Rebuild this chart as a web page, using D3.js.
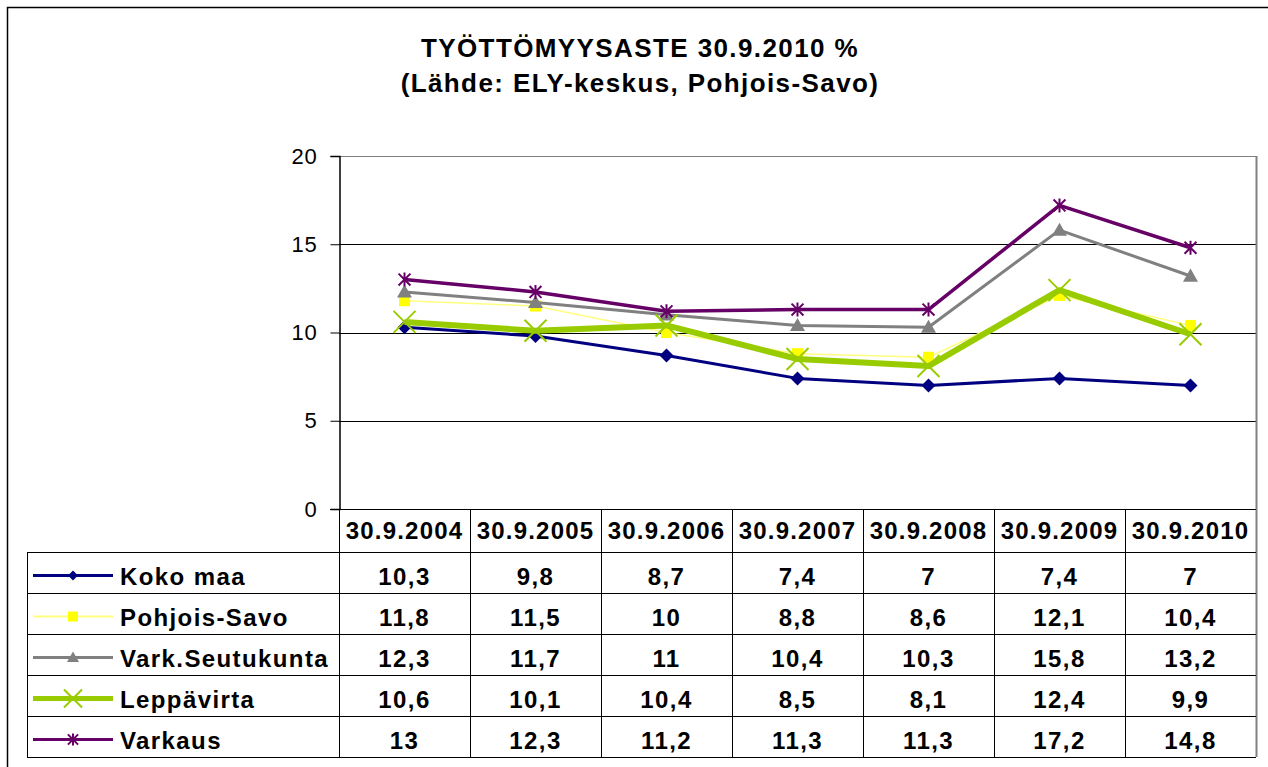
<!DOCTYPE html>
<html>
<head>
<meta charset="utf-8">
<script src="https://cdn.jsdelivr.net/npm/d3@7"></script>
<style>
  body { margin: 0; background: #fff; }
  svg { font-family: "Liberation Sans", Arial, sans-serif; }
</style>
</head>
<body>
<svg class="svgChart"></svg>
<script>
// data
var dates = ['30.9.2004', '30.9.2005', '30.9.2006', '30.9.2007', '30.9.2008', '30.9.2009', '30.9.2010'];
var seriesNames = ['Koko maa', 'Pohjois-Savo', 'Vark.Seutukunta', 'Leppävirta', 'Varkaus'];
var kokoMaa = [10.3, 9.8, 8.7, 7.4, 7, 7.4, 7];
var pohjoisSavo = [11.8, 11.5, 10, 8.8, 8.6, 12.1, 10.4];
var varkSeutukunta = [12.3, 11.7, 11, 10.4, 10.3, 15.8, 13.2];
var leppavirta = [10.6, 10.1, 10.4, 8.5, 8.1, 12.4, 9.9];
var varkaus = [13, 12.3, 11.2, 11.3, 11.3, 17.2, 14.8];
var yTicks = [0, 5, 10, 15, 20];

var seriesValues = [kokoMaa, pohjoisSavo, varkSeutukunta, leppavirta, varkaus];

// styles per series
var lineColors = ['#000080', '#ffff80', '#808080', '#99cc00', '#660066'];
var markColors = ['#000080', '#ffff00', '#808080', '#99cc00', '#660066'];
var lineWidths = [3, 1.5, 3, 6, 3.5];
var legendWidths = [3, 2, 3, 5, 3];

var W = 1268, H = 767;
var plot = { left: 339, right: 1256, top: 156, bottom: 509 };
var tableLeft = 27;
var rowTop = 552;
var rowH = 41;

var svg = d3.select('.svgChart')
    .attr('width', W)
    .attr('height', H);

// outer frame (right and bottom edges fall outside the picture)
svg.append('rect')
    .attr('x', 7.5).attr('y', 7.5)
    .attr('width', 1280).attr('height', 800)
    .attr('fill', 'none')
    .attr('stroke', '#000')
    .attr('stroke-width', 1.5);

// title
svg.append('text')
    .attr('x', 640).attr('y', 57)
    .attr('text-anchor', 'middle')
    .attr('font-size', 26).attr('font-weight', 'bold')
    .attr('letter-spacing', 1.4)
    .text('TYÖTTÖMYYSASTE 30.9.2010 %');
svg.append('text')
    .attr('x', 640).attr('y', 92)
    .attr('text-anchor', 'middle')
    .attr('font-size', 26).attr('font-weight', 'bold')
    .attr('letter-spacing', 1.4)
    .text('(Lähde: ELY-keskus, Pohjois-Savo)');

var xScale = d3.scaleBand()
    .domain(dates)
    .range([plot.left, plot.right]);

var yScale = d3.scaleLinear()
    .domain([0, 20])
    .range([plot.bottom, plot.top]);

// gridlines
svg.append('g')
    .selectAll('line')
    .data(yTicks.filter(d => d > 0))
    .enter()
    .append('line')
      .attr('x1', plot.left).attr('x2', plot.right)
      .attr('y1', d => Math.round(yScale(d)) + 0.5)
      .attr('y2', d => Math.round(yScale(d)) + 0.5)
      .attr('stroke', d => d === 20 ? '#808080' : '#000')
      .attr('stroke-width', 1);

// plot right border
svg.append('line')
    .attr('x1', plot.right + 0.5).attr('x2', plot.right + 0.5)
    .attr('y1', plot.top).attr('y2', plot.bottom)
    .attr('stroke', '#808080').attr('stroke-width', 2);

// y axis
var yAxis = d3.axisLeft(yScale)
    .tickValues(yTicks)
    .tickSize(9)
    .tickPadding(13);
var yg = svg.append('g')
    .attr('transform', 'translate(' + (plot.left + 0.5) + ',0)')
    .call(yAxis);
yg.select('.domain').attr('stroke', '#000').attr('stroke-width', 1.5);
yg.selectAll('.tick line').attr('stroke', '#000');
yg.selectAll('.tick text')
    .attr('font-size', 22)
    .attr('letter-spacing', 0.8)
    .attr('font-family', '"Liberation Sans", Arial, sans-serif')
    .attr('fill', '#000');

// markers
function markerPath(i, s) {
  if (i === 0) return 'M0,' + (-s) + 'L' + s + ',0L0,' + s + 'L' + (-s) + ',0Z';
  if (i === 1) return 'M' + (-s) + ',' + (-s) + 'H' + s + 'V' + s + 'H' + (-s) + 'Z';
  if (i === 2) return 'M0,' + (-s) + 'L' + s + ',' + (s * 0.75) + 'L' + (-s) + ',' + (s * 0.75) + 'Z';
  if (i === 3) return 'M' + (-s) + ',' + (-s) + 'L' + s + ',' + s + 'M' + (-s) + ',' + s + 'L' + s + ',' + (-s);
  var a = s * 0.85;
  return 'M' + (-a) + ',' + (-a) + 'L' + a + ',' + a + 'M' + (-a) + ',' + a + 'L' + a + ',' + (-a) + 'M0,' + (-s) + 'L0,' + s;
}
var markSizes = [7, 5.5, 7.5, 11, 7];
var legendMarkSizes = [5, 5, 6, 9, 6];

function styleMarker(p, i) {
  if (i >= 3) p.attr('fill', 'none').attr('stroke', markColors[i]).attr('stroke-width', 2);
  else p.attr('fill', markColors[i]);
}

var line = d3.line()
    .x((d, j) => xScale(dates[j]) + xScale.bandwidth() / 2)
    .y(d => yScale(d));

// draw in order so that Leppävirta is over Pohjois-Savo
var order = [0, 1, 2, 4, 3];
order.forEach(function(i) {
  var g = svg.append('g').attr('class', 'series');
  g.append('path')
      .attr('d', line(seriesValues[i]))
      .attr('fill', 'none')
      .attr('stroke', lineColors[i])
      .attr('stroke-width', lineWidths[i])
      .attr('stroke-linejoin', 'round');
  g.selectAll('path.mark')
    .data(seriesValues[i])
    .enter()
    .append('path')
      .attr('class', 'mark')
      .attr('d', markerPath(i, markSizes[i]))
      .attr('transform', (d, j) => 'translate(' + (xScale(dates[j]) + xScale.bandwidth() / 2) + ',' + yScale(d) + ')')
      .call(styleMarker, i);
});

// table
var yRow = d3.scaleBand()
    .domain(seriesNames)
    .range([rowTop, rowTop + rowH * seriesNames.length]);

var tbl = svg.append('g').attr('class', 'table');
var tableBottom = yRow.range()[1];

// column lines
tbl.selectAll('line.col')
  .data(dates.concat(['end']))
  .enter()
  .append('line')
    .attr('x1', (d, j) => Math.round(plot.left + j * xScale.bandwidth()) + 0.5)
    .attr('x2', (d, j) => Math.round(plot.left + j * xScale.bandwidth()) + 0.5)
    .attr('y1', plot.bottom)
    .attr('y2', tableBottom)
    .attr('stroke', (d, j) => j === dates.length ? '#808080' : '#000')
    .attr('stroke-width', (d, j) => j === dates.length ? 2 : 1);

// bottom axis line (x=0)
tbl.append('line')
    .attr('x1', plot.left - 9).attr('x2', plot.right)
    .attr('y1', plot.bottom + 0.5).attr('y2', plot.bottom + 0.5)
    .attr('stroke', '#000');

// horizontal row lines
var hLines = seriesNames.map(d => yRow(d)).concat([tableBottom]);
tbl.selectAll('line.row')
  .data(hLines)
  .enter()
  .append('line')
    .attr('x1', tableLeft)
    .attr('x2', plot.right)
    .attr('y1', d => Math.round(d) + 0.5)
    .attr('y2', d => Math.round(d) + 0.5)
    .attr('stroke', '#000');

// table left border
tbl.append('line')
    .attr('x1', tableLeft + 0.5).attr('x2', tableLeft + 0.5)
    .attr('y1', yRow.range()[0]).attr('y2', tableBottom)
    .attr('stroke', '#000');

// header text
tbl.selectAll('text.hdr')
  .data(dates)
  .enter()
  .append('text')
    .attr('x', d => xScale(d) + xScale.bandwidth() / 2)
    .attr('y', plot.bottom + 30)
    .attr('text-anchor', 'middle')
    .attr('font-size', 24).attr('font-weight', 'bold')
    .attr('letter-spacing', 1.2)
    .text(d => d);

// rows
seriesNames.forEach(function(name, i) {
  var cy = yRow(name) + rowH / 2;
  var lg = tbl.append('g');
  lg.append('line')
      .attr('x1', 33).attr('x2', 113)
      .attr('y1', cy + 3).attr('y2', cy + 3)
      .attr('stroke', lineColors[i])
      .attr('stroke-width', legendWidths[i]);
  lg.append('path')
      .attr('d', markerPath(i, legendMarkSizes[i]))
      .attr('transform', 'translate(73,' + (cy + 3) + ')')
      .call(styleMarker, i);

  lg.append('text')
      .attr('x', 120).attr('y', cy + 12)
      .attr('font-size', 24).attr('font-weight', 'bold')
      .attr('letter-spacing', 1.4)
      .text(name);

  tbl.selectAll('text.v' + i)
    .data(seriesValues[i])
    .enter()
    .append('text')
      .attr('x', (d, j) => xScale(dates[j]) + xScale.bandwidth() / 2)
      .attr('y', cy + 12)
      .attr('text-anchor', 'middle')
      .attr('font-size', 24).attr('font-weight', 'bold')
      .attr('letter-spacing', 1.4)
      .text(d => String(d).replace('.', ','));
});
</script>
</body>
</html>
